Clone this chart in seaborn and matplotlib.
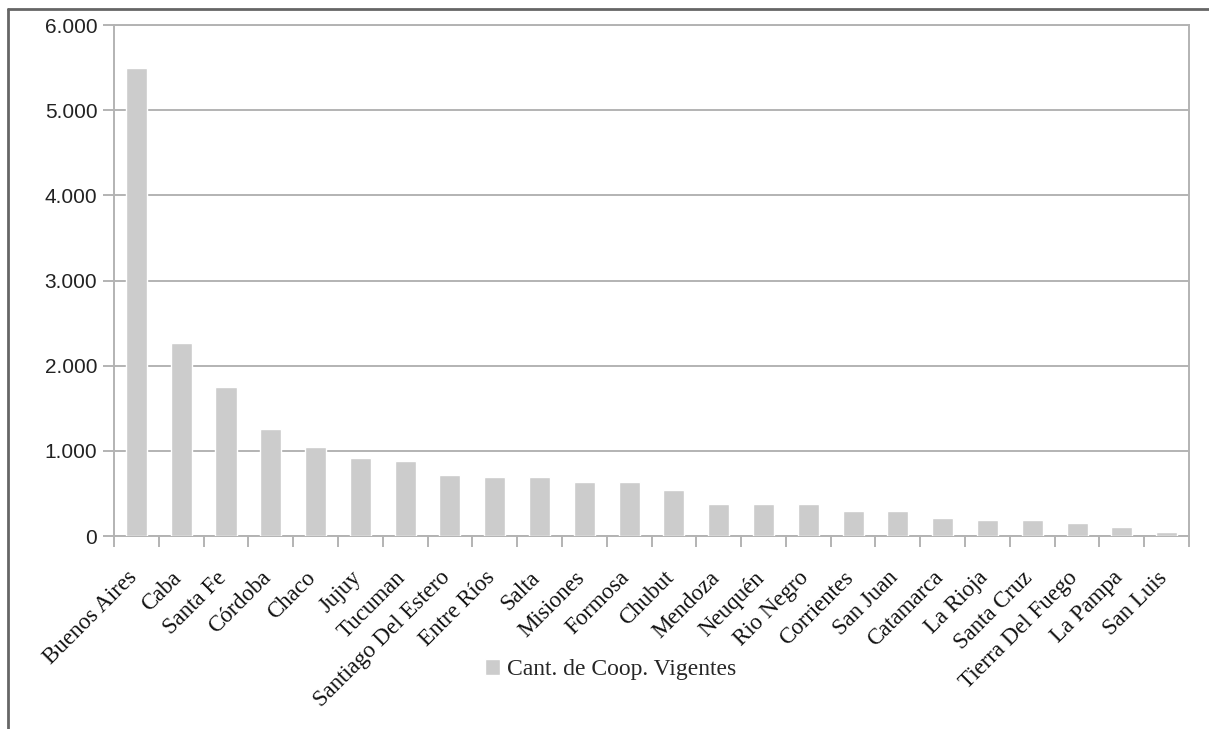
import matplotlib
matplotlib.use("Agg")
import matplotlib.pyplot as plt
from matplotlib.ticker import FuncFormatter, FixedLocator
from matplotlib.lines import Line2D
from matplotlib.transforms import ScaledTranslation
import seaborn as sns
import pandas as pd

provincias = [
    "Buenos Aires", "Caba", "Santa Fe", "Córdoba", "Chaco", "Jujuy", "Tucuman",
    "Santiago Del Estero", "Entre Ríos", "Salta", "Misiones", "Formosa", "Chubut",
    "Mendoza", "Neuquén", "Rio Negro", "Corrientes", "San Juan", "Catamarca",
    "La Rioja", "Santa Cruz", "Tierra Del Fuego", "La Pampa", "San Luis",
]
cooperativas = [
    5490, 2265, 1750, 1256, 1047, 922, 882, 714, 695, 695, 632, 632, 546,
    381, 381, 381, 299, 299, 216, 193, 193, 153, 106, 47,
]
y_ticks = [0, 1000, 2000, 3000, 4000, 5000, 6000]
serie = "Cant. de Coop. Vigentes"

df = pd.DataFrame({"provincia": provincias, "cant": cooperativas})

sns.set_style("white")
plt.rcParams["font.family"] = ["Liberation Sans", "DejaVu Sans"]
plt.rcParams["xtick.bottom"] = True
plt.rcParams["ytick.left"] = True

fig = plt.figure(figsize=(12.09, 7.29), dpi=100)
ax = fig.add_axes([0.0943, 0.2647, 0.8892, 0.701])

sns.barplot(data=df, x="provincia", y="cant", color="#cccccc", width=0.47,
            saturation=1, label=serie, ax=ax, zorder=3)

gris = "#b3b3b3"
serif = ["Liberation Serif", "DejaVu Serif"]
ax.set_ylim(0, 6000)
ax.set_xlim(-0.5, len(provincias) - 0.5)
ax.yaxis.set_major_locator(FixedLocator(y_ticks))
ax.yaxis.set_major_formatter(FuncFormatter(lambda v, p: f"{int(v):,}".replace(",", ".")))
ax.grid(axis="y", color=gris, linewidth=1.4, zorder=0)
ax.set_axisbelow(True)
for s in ax.spines.values():
    s.set_color(gris)
    s.set_linewidth(1.4)

ax.tick_params(axis="y", left=True, length=8, width=1.4, color=gris, labelsize=15,
               labelcolor="#222222", pad=4)
ax.set_xticks(range(len(provincias)))
ax.tick_params(axis="x", which="major", bottom=True, length=0, pad=21)
ax.xaxis.set_minor_locator(FixedLocator([i - 0.5 for i in range(len(provincias) + 1)]))
ax.tick_params(axis="x", which="minor", bottom=True, length=8, width=1.4, color=gris)
ax.set_xticklabels(provincias, rotation=45, ha="right", va="top", rotation_mode="anchor",
                   family=serif, fontsize=16.5, color="#111111")
# correr un poco las etiquetas a la izquierda
desplazar = ScaledTranslation(-0.1, -0.02, fig.dpi_scale_trans)
for lbl in ax.get_xticklabels():
    lbl.set_transform(lbl.get_transform() + desplazar)
ax.set_xlabel("")
ax.set_ylabel("")
if ax.get_legend() is not None:
    ax.get_legend().remove()

handles, labels = ax.get_legend_handles_labels()
fig.legend(handles[:1], labels[:1], loc="center", bbox_to_anchor=(0.505, 0.081),
           frameon=False, handlelength=0.62, handleheight=0.62, handletextpad=0.3,
           prop={"family": serif, "size": 17})

# marco de la página
fig.add_artist(Line2D([0.0066, 0.0066], [0, 0.987], transform=fig.transFigure,
                      color="#666666", linewidth=2))
fig.add_artist(Line2D([0.0066, 1], [0.987, 0.987], transform=fig.transFigure,
                      color="#666666", linewidth=2))

fig.savefig("out.png", dpi=100)
